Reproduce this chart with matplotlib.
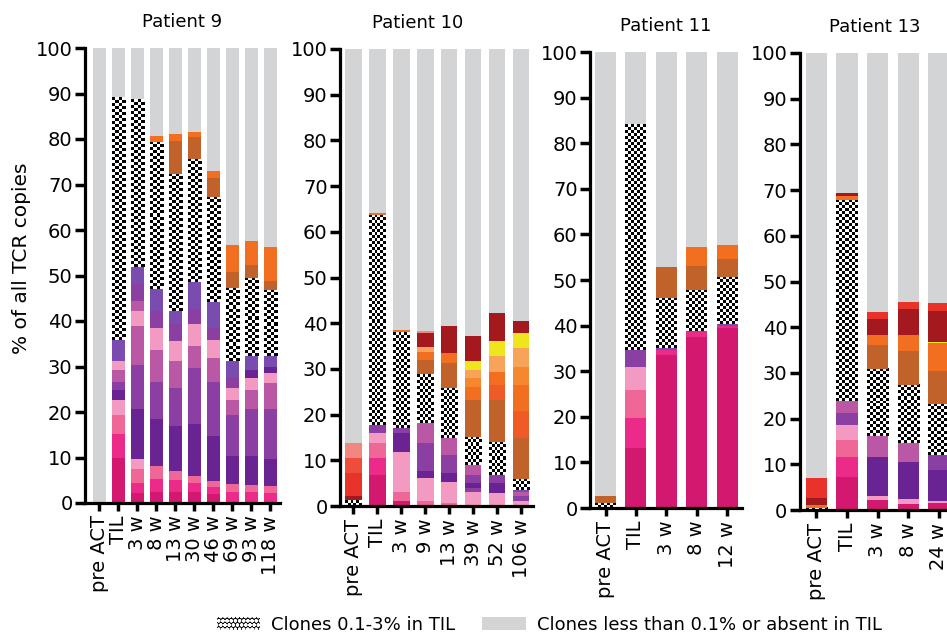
import numpy as np
import matplotlib
matplotlib.use("Agg")
import matplotlib.pyplot as plt
from matplotlib.colors import ListedColormap
from matplotlib.patches import Patch

plt.rcParams['font.family'] = ['DejaVu Sans']
plt.rcParams['hatch.linewidth'] = 1.2

# colours of the clone groups
colors = {
    'dpink': '#d3186f',
    'hpink': '#ec2a8a',
    'pink': '#ef6797',
    'lpink': '#f39ac3',
    'mauve': '#bb58a5',
    'purple': '#8c3fa2',
    'dpurple': '#6a2392',
    'bpurple': '#7a4cb0',
    'brown': '#c1622b',
    'orange': '#f26f22',
    'orange2': '#f5882e',
    'oranged': '#ef5a26',
    'lorange': '#f8a35a',
    'dred': '#a3191e',
    'red': '#e8332a',
    'lred': '#ee4d3c',
    'salmon': '#f2877e',
    'yellow': '#eee51c',
}
grey = '#d3d4d6'

# each bar: list of (clone group, upper edge in %), bottom to top; rest up to 100 is grey
p9_labels = ['pre ACT', 'TIL', '3 w', '8 w', '13 w', '30 w', '46 w', '69 w', '93 w', '118 w']
p9_segments = [
    [],
    [('dpink', 10), ('hpink', 15.2), ('pink', 19.3), ('lpink', 22.6), ('dpurple', 24.8), ('purple', 26.7),
     ('mauve', 29.3), ('lpink', 31.1), ('bpurple', 35.9), ('check', 89.3)],
    [('dpink', 2.2), ('hpink', 4.4), ('pink', 7.4), ('lpink', 9.6), ('dpurple', 20.7), ('purple', 30.4),
     ('mauve', 38.9), ('lpink', 42.2), ('mauve', 44.4), ('purple', 48.1), ('bpurple', 51.9), ('check', 88.7)],
    [('dpink', 2.5), ('hpink', 5.2), ('pink', 8.1), ('dpurple', 18.5), ('purple', 26.7), ('mauve', 33.7),
     ('lpink', 38.5), ('purple', 42.2), ('bpurple', 47), ('check', 79.4), ('orange', 80.6)],
    [('dpink', 2.5), ('hpink', 5), ('pink', 7), ('dpurple', 17), ('purple', 25.2), ('mauve', 31.1),
     ('lpink', 35.6), ('purple', 39.3), ('bpurple', 42.2), ('check', 72.4), ('brown', 79.5), ('orange', 81)],
    [('dpink', 2.5), ('hpink', 4.5), ('pink', 5.9), ('dpurple', 17.4), ('purple', 29.6), ('mauve', 34.4),
     ('lpink', 39.3), ('purple', 42.6), ('bpurple', 48.5), ('check', 75.7), ('brown', 80.5), ('orange', 81.5)],
    [('dpink', 2), ('hpink', 3.5), ('pink', 4.8), ('dpurple', 14.8), ('purple', 26.7), ('mauve', 31.9),
     ('lpink', 35.9), ('purple', 38.5), ('bpurple', 44.1), ('check', 67.3), ('brown', 71.5), ('orange', 72.9)],
    [('hpink', 2.5), ('pink', 4.1), ('dpurple', 10.4), ('purple', 19.3), ('mauve', 22.6), ('lpink', 25.2),
     ('purple', 27.8), ('bpurple', 31.1), ('check', 47.2), ('brown', 50.8), ('orange', 56.7)],
    [('hpink', 2.5), ('pink', 4), ('dpurple', 10.4), ('purple', 20.7), ('mauve', 24.8), ('lpink', 27.4),
     ('dpurple', 29.3), ('bpurple', 32.2), ('check', 49.4), ('brown', 52.3), ('orange', 57.6)],
    [('hpink', 2.2), ('pink', 3.7), ('dpurple', 9.6), ('purple', 20.7), ('mauve', 26.3), ('lpink', 28.5),
     ('dpurple', 30), ('bpurple', 32.2), ('check', 46.8), ('brown', 48.8), ('orange', 56.3)],
]

p10_labels = ['pre ACT', 'TIL', '3 w', '9 w', '13 w', '39 w', '52 w', '106 w']
p10_segments = [
    [('check', 1.3), ('dred', 2.2), ('red', 7.2), ('lred', 10.5), ('salmon', 13.7)],
    [('dpink', 6.8), ('hpink', 10.5), ('pink', 13.7), ('lpink', 15.9), ('purple', 17.7), ('check', 63.7),
     ('orange', 64.1)],
    [('dpink', 1), ('pink', 3.1), ('lpink', 11.9), ('dpurple', 15.9), ('purple', 17), ('check', 38),
     ('orange', 38.5)],
    [('pink', 1), ('lpink', 6.1), ('dpurple', 7.7), ('purple', 13.7), ('mauve', 18.2), ('check', 28.8),
     ('brown', 32), ('orange', 33.8), ('lorange', 34.9), ('dred', 37.8), ('salmon', 38.3)],
    [('pink', 0.7), ('lpink', 5.3), ('dpurple', 7.2), ('purple', 11.2), ('mauve', 14.8), ('check', 25.8),
     ('brown', 31.4), ('orange', 33.4), ('dred', 39.3)],
    [('lpink', 3.1), ('purple', 4), ('dpurple', 5), ('purple', 6.8), ('mauve', 9), ('check', 15.2),
     ('brown', 23.2), ('orange', 26.1), ('orange2', 28), ('lorange', 29.8), ('yellow', 31.7), ('dred', 37.2)],
    [('lpink', 2.9), ('dpurple', 5), ('purple', 6.7), ('check', 14.1), ('brown', 23.2), ('oranged', 26.5),
     ('orange', 29.4), ('lorange', 32.9), ('yellow', 36), ('dred', 42.3)],
    [('lpink', 1), ('purple', 2.2), ('mauve', 3.1), ('bpurple', 3.4), ('check', 6), ('brown', 14.9),
     ('oranged', 20.8), ('orange', 26.4), ('orange2', 30.4), ('lorange', 34.5), ('yellow', 37.8),
     ('dred', 40.5)],
]

p11_labels = ['pre ACT', 'TIL', '3 w', '8 w', '12 w']
p11_segments = [
    [('check', 1), ('brown', 2.6)],
    [('dpink', 13.1), ('hpink', 19.7), ('pink', 25.8), ('lpink', 31), ('purple', 34.7), ('check', 84.2)],
    [('dpink', 33.6), ('hpink', 34.7), ('bpurple', 35), ('check', 46), ('brown', 52.8)],
    [('dpink', 37.4), ('hpink', 38.5), ('bpurple', 38.8), ('check', 47.8), ('brown', 53.1), ('orange', 57.3)],
    [('dpink', 39.5), ('hpink', 40), ('bpurple', 40.3), ('check', 50.7), ('brown', 54.5), ('orange', 57.6)],
]

p13_labels = ['pre ACT', 'TIL', '3 w', '8 w', '24 w']
p13_segments = [
    [('check', 0.5), ('orange', 1), ('dred', 2.6), ('red', 6.9)],
    [('dpink', 7.3), ('hpink', 11.6), ('pink', 15.4), ('lpink', 18.7), ('purple', 21.2), ('mauve', 23.8),
     ('check', 67.8), ('orange', 68.7), ('dred', 69.3)],
    [('dpink', 2.2), ('lpink', 3.1), ('dpurple', 11.5), ('mauve', 16.1), ('check', 30.9), ('brown', 36.2),
     ('orange', 38.4), ('dred', 41.8), ('red', 43.4)],
    [('dpink', 1.3), ('lpink', 2.3), ('dpurple', 10.6), ('mauve', 14.6), ('check', 27.4), ('brown', 34.7),
     ('orange', 38.2), ('dred', 44), ('red', 45.5)],
    [('dpink', 1.5), ('lpink', 2), ('dpurple', 8.8), ('purple', 12), ('check', 23.3), ('brown', 30.4),
     ('orange', 36.6), ('yellow', 36.8), ('dred', 43.5), ('red', 45.2)],
]

patients = [
    ('Patient 9', p9_labels, p9_segments),
    ('Patient 10', p10_labels, p10_segments),
    ('Patient 11', p11_labels, p11_segments),
    ('Patient 13', p13_labels, p13_segments),
]

W, H = 947, 637
fig = plt.figure(figsize=(W / 100, H / 100), dpi=100)

# panel boxes in pixels: left, right, y of 0, y of 100, xlim, title x (axes frac)
boxes = [
    (85, 280, 503, 48, (-0.76, 9.5), 0.5),
    (340, 533, 506, 49, (-0.56, 7.5), 0.4),
    (590, 742, 508, 52, (-0.51, 4.49), 0.5),
    (800, 960, 510, 53, (-0.54, 4.7), 0.47),
]
bar_w = 0.69
cell = 3.0  # checker cell size in px
checker = ListedColormap(['black', 'white'])

for (title, labels, segs), (l, r, y0, y1, xl, tx) in zip(patients, boxes):
    ax = fig.add_axes([l / W, (H - y0) / H, (r - l) / W, (y0 - y1) / H])
    px_x = (r - l) / (xl[1] - xl[0])
    px_y = (y0 - y1) / 100.0
    x = np.arange(len(labels))
    ax.bar(x, 100, width=bar_w, color=grey, linewidth=0, zorder=1)
    for i, bar in enumerate(segs):
        prev = 0
        for key, top in bar:
            h = top - prev
            if key == 'check':
                nc = max(1, int(round(bar_w * px_x / cell)))
                nr = max(1, int(round(h * px_y / cell)))
                board = np.add.outer(np.arange(nr), np.arange(nc)) % 2
                ax.imshow(board, cmap=checker, extent=(i - bar_w / 2, i + bar_w / 2, prev, top),
                          aspect='auto', interpolation='nearest', zorder=2)
            else:
                ax.bar(i, h, bottom=prev, width=bar_w, color=colors[key], linewidth=0, zorder=2)
            prev = top
    ax.set_xlim(*xl)
    ax.set_ylim(0, 100)
    ax.set_xticks(x)
    ax.set_xticklabels(labels, rotation=90, fontsize=14)
    ax.set_yticks(np.arange(0, 101, 10))
    ax.tick_params(axis='y', labelsize=14, length=7, width=2.5, pad=2)
    ax.tick_params(axis='x', length=6, width=2.5, pad=3)
    for s in ['top', 'right']:
        ax.spines[s].set_visible(False)
    for s in ['left', 'bottom']:
        ax.spines[s].set_linewidth(2.3)
    ax.set_title(title, fontsize=13, x=tx, pad=15)

fig.text(0.023, 0.595, '% of all TCR copies', rotation=90, fontsize=14.5, ha='center', va='center')

handles = [Patch(facecolor='black', edgecolor='white', hatch='oooo', linewidth=0),
           Patch(facecolor=grey, linewidth=0)]
fig.legend(handles, ['Clones 0.1-3% in TIL', 'Clones less than 0.1% or absent in TIL'],
           loc='center', bbox_to_anchor=(0.58, 0.019), ncol=2, frameon=False, fontsize=13,
           handlelength=2.4, handletextpad=0.6, columnspacing=1.5)

fig.savefig('out.png', dpi=100)
